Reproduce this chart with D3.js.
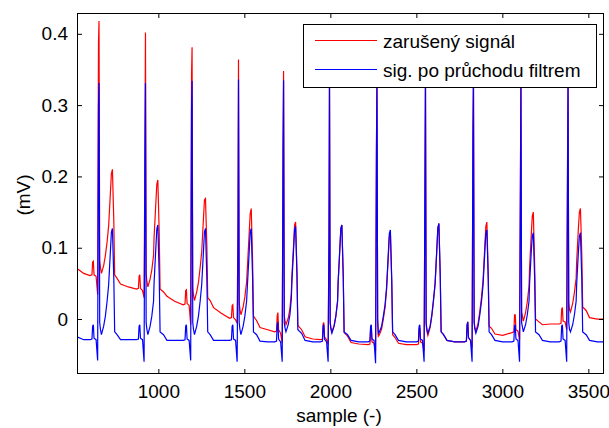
<!DOCTYPE html>
<html><head><meta charset="utf-8">
<script src="https://cdn.jsdelivr.net/npm/d3@7"></script>
<style>body{margin:0;background:#fff;} svg text{font-family:"Liberation Sans",Arial,Helvetica,sans-serif;fill:#000;}</style>
</head><body><svg id="c" width="609" height="428"></svg>
<script>
// sample index (x) shared by both series
const samples = [527, 566,
 603, 614, 618, 622, 626, 638, 647, 652, 655, 659, 663, 669, 682, 692, 702, 711, 721, 727, 733, 741, 746, 760, 780, 825,
 873, 884, 888, 892, 896, 908, 917, 922, 925, 929, 933, 939, 952, 962, 972, 975, 985, 991, 997, 1005, 1010, 1030, 1050, 1095,
 1144, 1155, 1159, 1163, 1167, 1179, 1188, 1193, 1196, 1200, 1204, 1210, 1223, 1233, 1243, 1252, 1262, 1268, 1274, 1282, 1287, 1301, 1321, 1366,
 1414, 1425, 1429, 1433, 1437, 1449, 1458, 1463, 1466, 1470, 1474, 1480, 1493, 1503, 1513, 1518, 1528, 1534, 1540, 1548, 1553, 1571, 1591, 1636,
 1676, 1687, 1691, 1695, 1699, 1711, 1720, 1725, 1728, 1732, 1736, 1742, 1755, 1765, 1773, 1776, 1786, 1792, 1798, 1806, 1811, 1833, 1853, 1898,
 1943, 1954, 1958, 1962, 1966, 1978, 1987, 1992, 1995, 1999, 2003, 2009, 2022, 2032, 2042, 2045, 2055, 2061, 2067, 2075, 2080, 2100, 2120, 2165,
 2219, 2230, 2234, 2238, 2242, 2254, 2263, 2268, 2271, 2275, 2279, 2285, 2298, 2308, 2318, 2327, 2337, 2343, 2349, 2357, 2362, 2376, 2396, 2441,
 2501, 2512, 2516, 2520, 2524, 2536, 2545, 2550, 2553, 2557, 2561, 2567, 2580, 2590, 2600, 2609, 2619, 2625, 2631, 2639, 2644, 2658, 2678, 2723,
 2780, 2791, 2795, 2799, 2803, 2815, 2824, 2829, 2832, 2836, 2840, 2846, 2859, 2869, 2879, 2888, 2898, 2904, 2910, 2918, 2923, 2937, 2957, 3002,
 3056, 3067, 3071, 3075, 3079, 3091, 3100, 3105, 3108, 3112, 3116, 3122, 3135, 3145, 3155, 3158, 3168, 3174, 3180, 3188, 3193, 3213, 3233, 3278,
 3330, 3341, 3345, 3349, 3353, 3365, 3374, 3379, 3382, 3386, 3390, 3396, 3409, 3419, 3429, 3432, 3442, 3448, 3454, 3462, 3467, 3487, 3507, 3552,
 3591];

// zarušený signál (red)
const noisy = [0.071, 0.064,
 0.061, 0.062, 0.080, 0.081, 0.062, 0.060, 0.034, 0.387, 0.418, 0.082, 0.073, 0.064, 0.075, 0.089, 0.108, 0.131, 0.176, 0.204, 0.210, 0.137, 0.062, 0.057, 0.049, 0.045,
 0.042, 0.043, 0.060, 0.062, 0.043, 0.040, 0.030, 0.237, 0.402, 0.063, 0.054, 0.045, 0.056, 0.069, 0.089, 0.114, 0.161, 0.189, 0.195, 0.121, 0.042, 0.038, 0.032, 0.025,
 0.020, 0.021, 0.040, 0.041, 0.022, 0.019, -0.008, 0.342, 0.381, 0.043, 0.034, 0.026, 0.038, 0.051, 0.072, 0.094, 0.140, 0.167, 0.169, 0.103, 0.030, 0.026, 0.016, 0.008,
 0.001, 0.002, 0.019, 0.020, 0.002, -0.001, -0.006, 0.130, 0.364, 0.023, 0.014, 0.006, 0.017, 0.031, 0.052, 0.074, 0.120, 0.148, 0.155, 0.081, 0.004, -0.002, -0.012, -0.015,
 -0.018, -0.017, 0.005, 0.009, -0.015, -0.020, -0.034, 0.245, 0.348, 0.005, -0.002, -0.008, 0.001, 0.015, 0.036, 0.058, 0.103, 0.132, 0.136, 0.066, -0.009, -0.015, -0.025, -0.028,
 -0.029, -0.028, -0.007, -0.005, -0.025, -0.029, -0.036, 0.115, 0.340, -0.004, -0.012, -0.018, -0.009, 0.004, 0.025, 0.050, 0.098, 0.127, 0.132, 0.059, -0.019, -0.024, -0.033, -0.035,
 -0.036, -0.035, -0.014, -0.012, -0.032, -0.034, -0.045, 0.238, 0.340, -0.004, -0.024, -0.022, -0.014, 0.000, 0.016, 0.041, 0.088, 0.116, 0.121, 0.051, -0.022, -0.026, -0.034, -0.036,
 -0.036, -0.035, -0.014, -0.012, -0.032, -0.034, -0.045, 0.190, 0.340, -0.008, -0.017, -0.023, -0.012, 0.004, 0.026, 0.049, 0.097, 0.127, 0.134, 0.060, -0.018, -0.022, -0.030, -0.032,
 -0.032, -0.031, -0.008, -0.004, -0.026, -0.030, -0.040, 0.259, 0.340, -0.003, -0.012, -0.017, -0.006, 0.011, 0.031, 0.055, 0.102, 0.130, 0.136, 0.063, -0.010, -0.013, -0.021, -0.023,
 -0.019, -0.018, 0.006, 0.006, -0.015, -0.017, -0.030, 0.196, 0.340, 0.010, 0.005, -0.003, 0.009, 0.024, 0.046, 0.070, 0.118, 0.144, 0.150, 0.075, 0.000, -0.004, -0.008, -0.007,
 -0.007, -0.006, 0.014, 0.016, -0.003, -0.004, -0.015, 0.226, 0.340, 0.023, 0.014, 0.010, 0.022, 0.037, 0.057, 0.080, 0.127, 0.150, 0.155, 0.090, 0.017, 0.012, 0.002, 0.000,
 0.000];

// sig. po průchodu filtrem (blue)
const filtered = [-0.025, -0.029,
 -0.029, -0.028, -0.010, -0.008, -0.027, -0.029, -0.058, 0.300, 0.331, -0.005, -0.014, -0.022, -0.010, 0.004, 0.025, 0.048, 0.094, 0.122, 0.127, 0.057, -0.018, -0.022, -0.029, -0.029,
 -0.029, -0.028, -0.010, -0.008, -0.027, -0.029, -0.060, 0.232, 0.331, -0.005, -0.014, -0.022, -0.010, 0.004, 0.025, 0.050, 0.098, 0.126, 0.132, 0.060, -0.018, -0.022, -0.030, -0.030,
 -0.030, -0.029, -0.010, -0.008, -0.028, -0.030, -0.058, 0.296, 0.334, -0.005, -0.014, -0.022, -0.010, 0.004, 0.025, 0.048, 0.094, 0.122, 0.127, 0.057, -0.018, -0.022, -0.030, -0.030,
 -0.030, -0.029, -0.010, -0.008, -0.028, -0.030, -0.060, 0.110, 0.336, -0.005, -0.014, -0.022, -0.010, 0.004, 0.025, 0.048, 0.094, 0.122, 0.127, 0.057, -0.018, -0.022, -0.031, -0.032,
 -0.032, -0.031, -0.008, -0.004, -0.028, -0.032, -0.060, 0.233, 0.335, -0.005, -0.012, -0.018, -0.008, 0.006, 0.028, 0.050, 0.096, 0.125, 0.130, 0.060, -0.015, -0.020, -0.030, -0.032,
 -0.032, -0.031, -0.010, -0.008, -0.028, -0.032, -0.060, 0.110, 0.340, -0.005, -0.014, -0.020, -0.010, 0.004, 0.025, 0.050, 0.098, 0.127, 0.132, 0.060, -0.018, -0.022, -0.030, -0.032,
 -0.032, -0.031, -0.010, -0.008, -0.028, -0.030, -0.062, 0.238, 0.340, 0.000, -0.020, -0.018, -0.010, 0.004, 0.020, 0.045, 0.092, 0.120, 0.125, 0.055, -0.018, -0.022, -0.030, -0.032,
 -0.032, -0.031, -0.010, -0.008, -0.028, -0.030, -0.060, 0.194, 0.340, -0.005, -0.014, -0.020, -0.010, 0.006, 0.028, 0.050, 0.098, 0.128, 0.134, 0.060, -0.018, -0.022, -0.030, -0.032,
 -0.032, -0.031, -0.008, -0.004, -0.026, -0.030, -0.060, 0.255, 0.340, -0.005, -0.014, -0.020, -0.010, 0.006, 0.025, 0.048, 0.094, 0.120, 0.125, 0.055, -0.018, -0.022, -0.030, -0.032,
 -0.032, -0.031, -0.010, -0.008, -0.028, -0.030, -0.060, 0.181, 0.340, -0.005, -0.010, -0.018, -0.008, 0.006, 0.025, 0.048, 0.094, 0.116, 0.121, 0.055, -0.018, -0.022, -0.030, -0.032,
 -0.032, -0.031, -0.010, -0.008, -0.028, -0.030, -0.060, 0.200, 0.340, -0.005, -0.014, -0.018, -0.008, 0.006, 0.025, 0.048, 0.094, 0.116, 0.121, 0.055, -0.018, -0.022, -0.030, -0.032,
 -0.032];

const xTicks = [1000, 1500, 2000, 2500, 3000, 3500];
const yTicks = [0, 0.1, 0.2, 0.3, 0.4];
const seriesNames = ["zarušený signál", "sig. po průchodu filtrem"];
const seriesColors = ["#ff0000", "#0000ff"];
const xLabel = "sample (-)";
const yLabel = "(mV)";

const W = 609, H = 428;
const m = {l: 77, r: 604, t: 13, b: 374};
const FS = 19;
const svg = d3.select("#c");
svg.append("rect").attr("width", W).attr("height", H).attr("fill", "#fff");

const x = d3.scaleLinear().domain([527, 3591]).range([m.l, m.r]);
const y = d3.scaleLinear().domain([-0.0771, 0.4292]).range([m.b, m.t]);

svg.append("defs").append("clipPath").attr("id", "clip")
  .append("rect").attr("x", m.l).attr("y", m.t).attr("width", m.r - m.l).attr("height", m.b - m.t);

const line = d3.line().x(d => x(d[0])).y(d => y(d[1]));
const seriesData = [noisy, filtered];
const g = svg.append("g").attr("clip-path", "url(#clip)");
seriesData.forEach((vals, i) => {
  g.append("path")
    .datum(samples.map((s, k) => [s, vals[k]]))
    .attr("d", line)
    .attr("fill", "none")
    .attr("stroke", seriesColors[i])
    .attr("stroke-width", 1.2)
    .attr("stroke-linejoin", "miter");
});

function styleAxis(sel) {
  sel.select(".domain").remove();
  sel.selectAll(".tick line").attr("stroke", "#000");
  sel.selectAll("text").attr("font-size", FS).attr("fill", "#000")
    .attr("font-family", "'Liberation Sans', Arial, sans-serif");
}

svg.append("g").attr("transform", `translate(0,${m.b})`)
  .call(d3.axisBottom(x).tickValues(xTicks).tickSize(-5).tickPadding(11).tickFormat(d3.format("d")))
  .call(styleAxis);
svg.append("g").attr("transform", `translate(0,${m.t})`)
  .call(d3.axisTop(x).tickValues(xTicks).tickSize(-5).tickFormat(""))
  .call(styleAxis);
svg.append("g").attr("transform", `translate(${m.l},0)`)
  .call(d3.axisLeft(y).tickValues(yTicks).tickSize(-5).tickPadding(9).tickFormat(d => d === 0 ? "0" : d3.format(".1f")(d)))
  .call(styleAxis);
svg.append("g").attr("transform", `translate(${m.r},0)`)
  .call(d3.axisRight(y).tickValues(yTicks).tickSize(-5).tickFormat(""))
  .call(styleAxis);

svg.append("rect").attr("x", m.l + 0.5).attr("y", m.t + 0.5)
  .attr("width", m.r - m.l - 1).attr("height", m.b - m.t - 1)
  .attr("fill", "none").attr("stroke", "#000").attr("stroke-width", 1);

svg.append("text").attr("x", 339).attr("y", 422)
  .attr("text-anchor", "middle").attr("font-size", FS).text(xLabel);
svg.append("text").attr("transform", "translate(30,195) rotate(-90)")
  .attr("text-anchor", "middle").attr("font-size", FS).text(yLabel);

// legend
const lg = svg.append("g");
lg.append("rect").attr("x", 303.5).attr("y", 24.5).attr("width", 293).attr("height", 63)
  .attr("fill", "#fff").attr("stroke", "#000").attr("stroke-width", 1);
seriesNames.forEach((name, i) => {
  const ly = 40.5 + i * 29;
  lg.append("line").attr("x1", 315).attr("x2", 377).attr("y1", ly).attr("y2", ly)
    .attr("stroke", seriesColors[i]).attr("stroke-width", 1.2);
  lg.append("text").attr("x", 383).attr("y", ly + 7).attr("font-size", FS).text(name);
});
</script></body></html>
